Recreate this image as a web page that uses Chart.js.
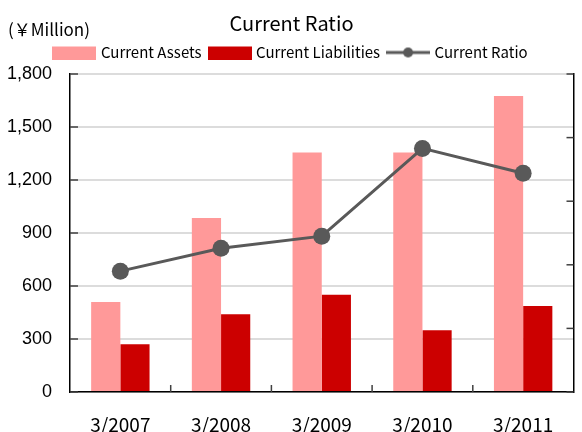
<!DOCTYPE html>
<html><head><meta charset="utf-8">
<script src="https://cdn.jsdelivr.net/npm/chart.js@4"></script>
<style>html,body{margin:0;padding:0;background:#fff}#wrap{width:582px;height:432px;position:relative}</style>
</head><body><div id="wrap"><canvas id="c" width="582" height="432"></canvas></div>
<script>
const categories = ['3/2007', '3/2008', '3/2009', '3/2010', '3/2011'];
const currentAssets = [510, 985, 1355, 1355, 1675];
const currentLiabilities = [270, 440, 550, 350, 487];
const currentRatio = [1.90, 2.26, 2.45, 3.83, 3.44];
const leftTicks = [0, 300, 600, 900, 1200, 1500, 1800];
const rightTicks = [0, 1, 2, 3, 4, 5];
const seriesNames = ['Current Assets', 'Current Liabilities', 'Current Ratio'];
const chartTitle = 'Current Ratio';
const unitLabel = '(￥Million)';

const JP = "'Noto Sans CJK JP', 'Noto Sans', sans-serif";
const NUM = "'Liberation Sans', Arial, sans-serif";
const C_ASSET = '#ff9999', C_LIAB = '#cc0000', C_LINE = '#595959';

function swatch(kind, color) {
  const cv = document.createElement('canvas');
  cv.width = 44; cv.height = 14;
  const g = cv.getContext('2d');
  if (kind === 'rect') { g.fillStyle = color; g.fillRect(0, 1, 44, 13); }
  else {
    g.strokeStyle = color; g.lineWidth = 3;
    g.beginPath(); g.moveTo(0, 7); g.lineTo(44, 7); g.stroke();
    g.fillStyle = color; g.beginPath(); g.arc(22, 7, 5, 0, Math.PI * 2); g.fill();
  }
  return cv;
}
const swatches = [swatch('rect', C_ASSET), swatch('rect', C_LIAB), swatch('line', C_LINE)];

const extras = {
  id: 'extras',
  afterDraw(chart) {
    const ctx = chart.ctx, a = chart.chartArea;
    const y = chart.scales.y, y1 = chart.scales.y1, x = chart.scales.x;
    ctx.save();
    ctx.strokeStyle = '#404040'; ctx.lineWidth = 1.5;
    y.ticks.forEach(t => { const p = y.getPixelForValue(t.value); ctx.beginPath(); ctx.moveTo(a.left, p); ctx.lineTo(a.left + 8, p); ctx.stroke(); });
    y1.ticks.forEach(t => { const p = y1.getPixelForValue(t.value); ctx.beginPath(); ctx.moveTo(a.right - 7, p); ctx.lineTo(a.right, p); ctx.stroke(); });
    for (let i = 1; i < categories.length; i++) {
      const p = (x.getPixelForValue(i - 1) + x.getPixelForValue(i)) / 2;
      ctx.beginPath(); ctx.moveTo(p, a.bottom); ctx.lineTo(p, a.bottom - 7); ctx.stroke();
    }
    ctx.fillStyle = '#000';
    ctx.font = '17px ' + JP;
    ctx.textBaseline = 'middle'; ctx.textAlign = 'left';
    ctx.fillText(unitLabel, 8, 30);
    ctx.restore();
  }
};

new Chart(document.getElementById('c'), {
  data: {
    labels: categories,
    datasets: [
      { type: 'bar', label: seriesNames[0], data: currentAssets, backgroundColor: C_ASSET, yAxisID: 'y', order: 2, categoryPercentage: 0.58, barPercentage: 1.0 },
      { type: 'bar', label: seriesNames[1], data: currentLiabilities, backgroundColor: C_LIAB, yAxisID: 'y', order: 3, categoryPercentage: 0.58, barPercentage: 1.0 },
      { type: 'line', label: seriesNames[2], data: currentRatio, borderColor: C_LINE, backgroundColor: C_LINE, borderWidth: 3, pointRadius: 8.5, pointBackgroundColor: C_LINE, pointBorderWidth: 0, yAxisID: 'y1', order: 1, tension: 0 }
    ]
  },
  options: {
    responsive: false, animation: false, devicePixelRatio: 1,
    layout: { padding: { left: 7, right: 6, top: 0, bottom: 0 } },
    plugins: {
      title: { display: true, text: chartTitle, color: '#000', font: { family: JP, size: 20, weight: 'normal' }, padding: { top: 11, bottom: 1 } },
      legend: {
        display: true,
        labels: {
          usePointStyle: true, pointStyleWidth: 38, boxHeight: 14, padding: 9,
          color: '#000', font: { family: JP, size: 15 },
          sort: (a, b) => a.datasetIndex - b.datasetIndex,
          generateLabels: (chart) => chart.data.datasets.map((d, i) => ({
            text: d.label, datasetIndex: i, pointStyle: swatches[i], fillStyle: 'transparent', strokeStyle: 'transparent', lineWidth: 0, hidden: false
          }))
        }
      },
      tooltip: { enabled: false }
    },
    scales: {
      x: {
        offset: true,
        grid: { display: false, drawTicks: false },
        border: { display: true, color: '#000', width: 1.5 },
        ticks: { color: '#000', font: { family: JP, size: 19 }, padding: 21 },
        afterFit: s => { s.height = 40; }
      },
      xTopSpacer: {
        type: 'category', position: 'top', offset: true,
        grid: { display: false, drawTicks: false },
        border: { display: false },
        ticks: { display: false },
        afterFit: s => { s.height = 4; }
      },
      y: {
        position: 'left', min: 0, max: 1800,
        afterBuildTicks: s => { s.ticks = leftTicks.map(v => ({ value: v })); },
        ticks: { color: '#000', font: { family: NUM, size: 18 }, padding: 18, callback: v => v.toLocaleString('en-US') },
        grid: { color: '#dcdcdc', lineWidth: 2, drawTicks: false },
        border: { color: '#000', width: 1.5 },
        afterFit: s => { s.width = 63; }
      },
      y1: {
        position: 'right', min: 0, max: 5,
        afterBuildTicks: s => { s.ticks = rightTicks.map(v => ({ value: v })); },
        ticks: { display: false },
        grid: { drawOnChartArea: false, drawTicks: false },
        border: { color: '#000', width: 1.5 },
        afterFit: s => { s.width = 0; }
      }
    }
  },
  plugins: [extras]
});
</script></body></html>
